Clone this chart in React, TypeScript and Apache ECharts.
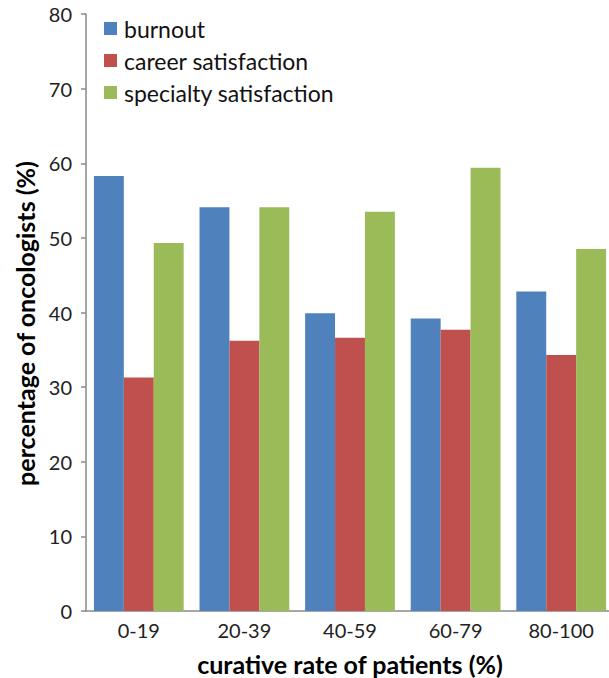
import React, { useEffect, useRef } from "react";
import * as echarts from "echarts";

const categories = ["0-19", "20-39", "40-59", "60-79", "80-100"];
const burnout = [58.3, 54.1, 39.9, 39.2, 42.8];
const careerSatisfaction = [31.3, 36.2, 36.6, 37.7, 34.3];
const specialtySatisfaction = [49.3, 54.1, 53.5, 59.4, 48.5];
const seriesNames = ["burnout", "career satisfaction", "specialty satisfaction"];

const FONT = "Lato, 'Open Sans', sans-serif";

export default function App() {
  const ref = useRef<HTMLDivElement>(null);
  useEffect(() => {
    if (!ref.current) return;
    const chart = echarts.init(ref.current, undefined, { renderer: "svg" });
    const axisColor = "#8a8a8a";
    chart.setOption({
      animation: false,
      backgroundColor: "#ffffff",
      color: ["#4F81BD", "#C0504D", "#9BBB59"],
      legend: {
        orient: "vertical",
        left: 104,
        top: 17,
        padding: 0,
        itemWidth: 13,
        itemHeight: 13,
        itemGap: 9,
        icon: "rect",
        data: seriesNames,
        textStyle: { fontFamily: FONT, fontSize: 23, color: "#111", padding: [0, 0, 0, 2] },
      },
      grid: { left: 86, right: 0, top: 14, bottom: 67, outerBoundsMode: "none", containLabel: false },
      xAxis: {
        type: "category",
        data: categories,
        name: "curative rate of patients (%)",
        nameLocation: "middle",
        nameGap: 40,
        nameTextStyle: { fontFamily: FONT, fontSize: 25, fontWeight: "bold", color: "#000" },
        axisLine: { lineStyle: { color: axisColor, width: 1.5 } },
        axisTick: { show: false },
        axisLabel: { fontFamily: FONT, fontSize: 20, color: "#222", margin: 9 },
      },
      yAxis: {
        type: "value",
        min: 0,
        max: 80,
        interval: 10,
        name: "percentage of oncologists (%)",
        nameLocation: "middle",
        nameGap: 49,
        nameTextStyle: { fontFamily: FONT, fontSize: 25, fontWeight: "bold", color: "#000", padding: [0, 22, 0, 0] },
        axisLine: { show: true, lineStyle: { color: axisColor, width: 1.5 } },
        axisTick: { show: true, length: 5, lineStyle: { color: axisColor, width: 1.5 } },
        splitLine: { show: false },
        axisLabel: { fontFamily: FONT, fontSize: 20, color: "#222", margin: 14 },
      },
      series: [
        { name: seriesNames[0], type: "bar", data: burnout, barGap: "0%", barCategoryGap: "15%" },
        { name: seriesNames[1], type: "bar", data: careerSatisfaction, barGap: "0%", barCategoryGap: "15%" },
        { name: seriesNames[2], type: "bar", data: specialtySatisfaction, barGap: "0%", barCategoryGap: "15%" },
      ],
    });
    return () => chart.dispose();
  }, []);
  return (
    <div
      ref={ref}
      style={{ position: "fixed", left: 0, top: 0, width: 614, height: 678 }}
    />
  );
}
